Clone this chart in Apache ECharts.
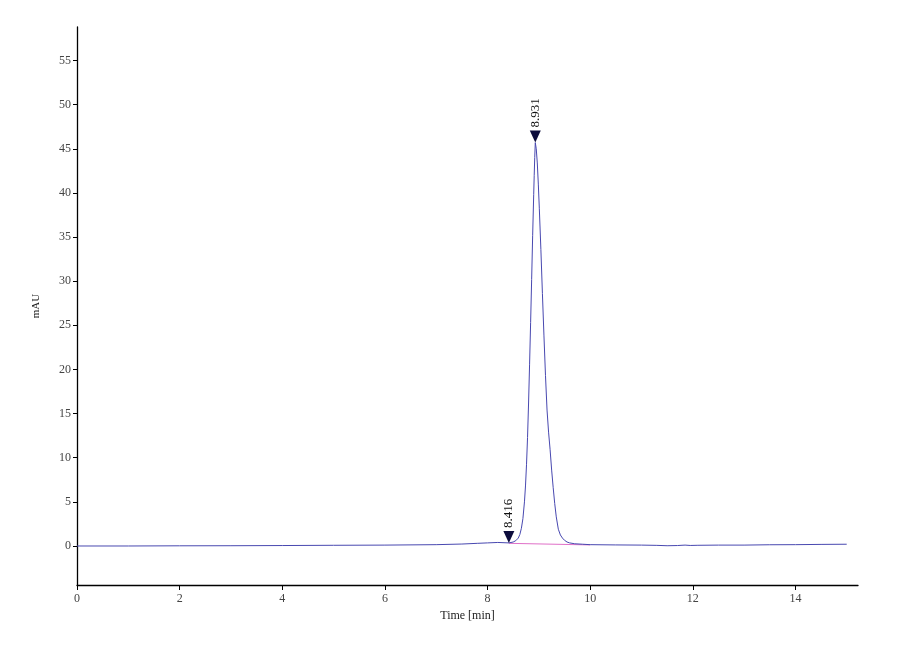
<!DOCTYPE html>
<html>
<head>
<meta charset="utf-8">
<script src="https://cdn.jsdelivr.net/npm/echarts@6/dist/echarts.min.js"></script>
<style>html,body{margin:0;padding:0;background:#fff}#c{width:900px;height:660px}</style>
</head>
<body>
<div id="c"></div>
<script>
var times = [0, 1, 2, 3, 4, 5, 6, 7, 7.5, 7.8, 8.0, 8.2, 8.416, 8.5, 8.55, 8.6, 8.63, 8.66, 8.69, 8.72, 8.74, 8.76, 8.78, 8.8, 8.82, 8.84, 8.86, 8.88, 8.9, 8.91, 8.92, 8.931, 8.94, 8.95, 8.97, 8.99, 9.01, 9.04, 9.07, 9.1, 9.13, 9.16, 9.19, 9.22, 9.25, 9.28, 9.31, 9.34, 9.38, 9.42, 9.46, 9.5, 9.55, 9.6, 9.7, 9.85, 10, 10.5, 11, 11.3, 11.5, 11.7, 11.85, 11.95, 12.1, 12.5, 13, 13.5, 14, 14.5, 15];
var absorbance = [0, 0, 0.02, 0.03, 0.05, 0.08, 0.1, 0.15, 0.22, 0.3, 0.35, 0.4, 0.35, 0.45, 0.6, 0.9, 1.3, 2.0, 3.1, 5.0, 6.8, 9.2, 12.3, 16.2, 20.6, 25.3, 30.2, 35.2, 39.8, 42.0, 44.0, 45.7, 45.6, 45.0, 43.4, 41.0, 38.2, 33.6, 28.6, 23.8, 19.3, 15.4, 12.9, 10.9, 8.6, 6.6, 4.8, 3.3, 1.9, 1.25, 0.9, 0.65, 0.45, 0.35, 0.25, 0.2, 0.15, 0.12, 0.1, 0.07, 0.03, 0.05, 0.1, 0.06, 0.08, 0.1, 0.1, 0.14, 0.15, 0.18, 0.2];
var baselineTimes = [8.416, 10.0];
var baselineValues = [0.3, 0.12];
var peakTimes = [8.416, 8.931];
var peakValues = [0.35, 45.7];
var peakLabels = ['8.416', '8.931'];
var yTicks = [0, 5, 10, 15, 20, 25, 30, 35, 40, 45, 50, 55];
var xTicks = [0, 2, 4, 6, 8, 10, 12, 14];

var trace = times.map(function (t, i) { return [t, absorbance[i]]; });
var base = baselineTimes.map(function (t, i) { return [t, baselineValues[i]]; });
var marks = peakTimes.map(function (t, i) {
  return { coord: [t, peakValues[i]], value: peakLabels[i] };
});

var font = 'Liberation Serif';
var chart = echarts.init(document.getElementById('c'));
chart.setOption({
  backgroundColor: '#ffffff',
  animation: false,
  grid: { left: 77, right: 42, top: 27, bottom: 75, containLabel: false },
  xAxis: {
    type: 'value', min: 0, max: 15.22,
    name: 'Time [min]', nameLocation: 'middle', nameGap: 23,
    nameTextStyle: { fontFamily: font, fontSize: 12, color: '#222' },
    axisLine: { onZero: false, lineStyle: { color: '#000', width: 1.3 } },
    axisTick: { show: true, length: 5, lineStyle: { color: '#000' }, customValues: xTicks },
    axisLabel: { fontFamily: font, fontSize: 12, color: '#444', margin: 8, customValues: xTicks },
    splitLine: { show: false }
  },
  yAxis: {
    type: 'value', min: -4.42, max: 58.8,
    name: 'mAU', nameLocation: 'middle', nameGap: 35, nameRotate: 90,
    nameTextStyle: { fontFamily: font, fontSize: 11, color: '#222' },
    axisLine: { show: true, lineStyle: { color: '#000', width: 1.3 } },
    axisTick: { show: true, length: 4, lineStyle: { color: '#000' }, customValues: yTicks },
    axisLabel: { fontFamily: font, fontSize: 12, color: '#444', margin: 6, customValues: yTicks },
    splitLine: { show: false }
  },
  series: [
    {
      type: 'line', data: base, symbol: 'none',
      lineStyle: { color: '#e070c8', width: 1 }, z: 2
    },
    {
      type: 'line', data: trace, symbol: 'none', smooth: false,
      lineStyle: { color: '#4848b0', width: 1 }, z: 3,
      markPoint: {
        symbol: 'triangle', symbolRotate: 180, symbolSize: [11, 12], symbolOffset: [0, -6],
        itemStyle: { color: '#0c0c3c' },
        label: {
          show: true, position: 'top', rotate: 90, align: 'left', verticalAlign: 'middle',
          distance: 3, fontFamily: font, fontSize: 13, color: '#111',
          formatter: function (p) { return p.value; }
        },
        data: marks
      }
    }
  ]
});
</script>
</body>
</html>
